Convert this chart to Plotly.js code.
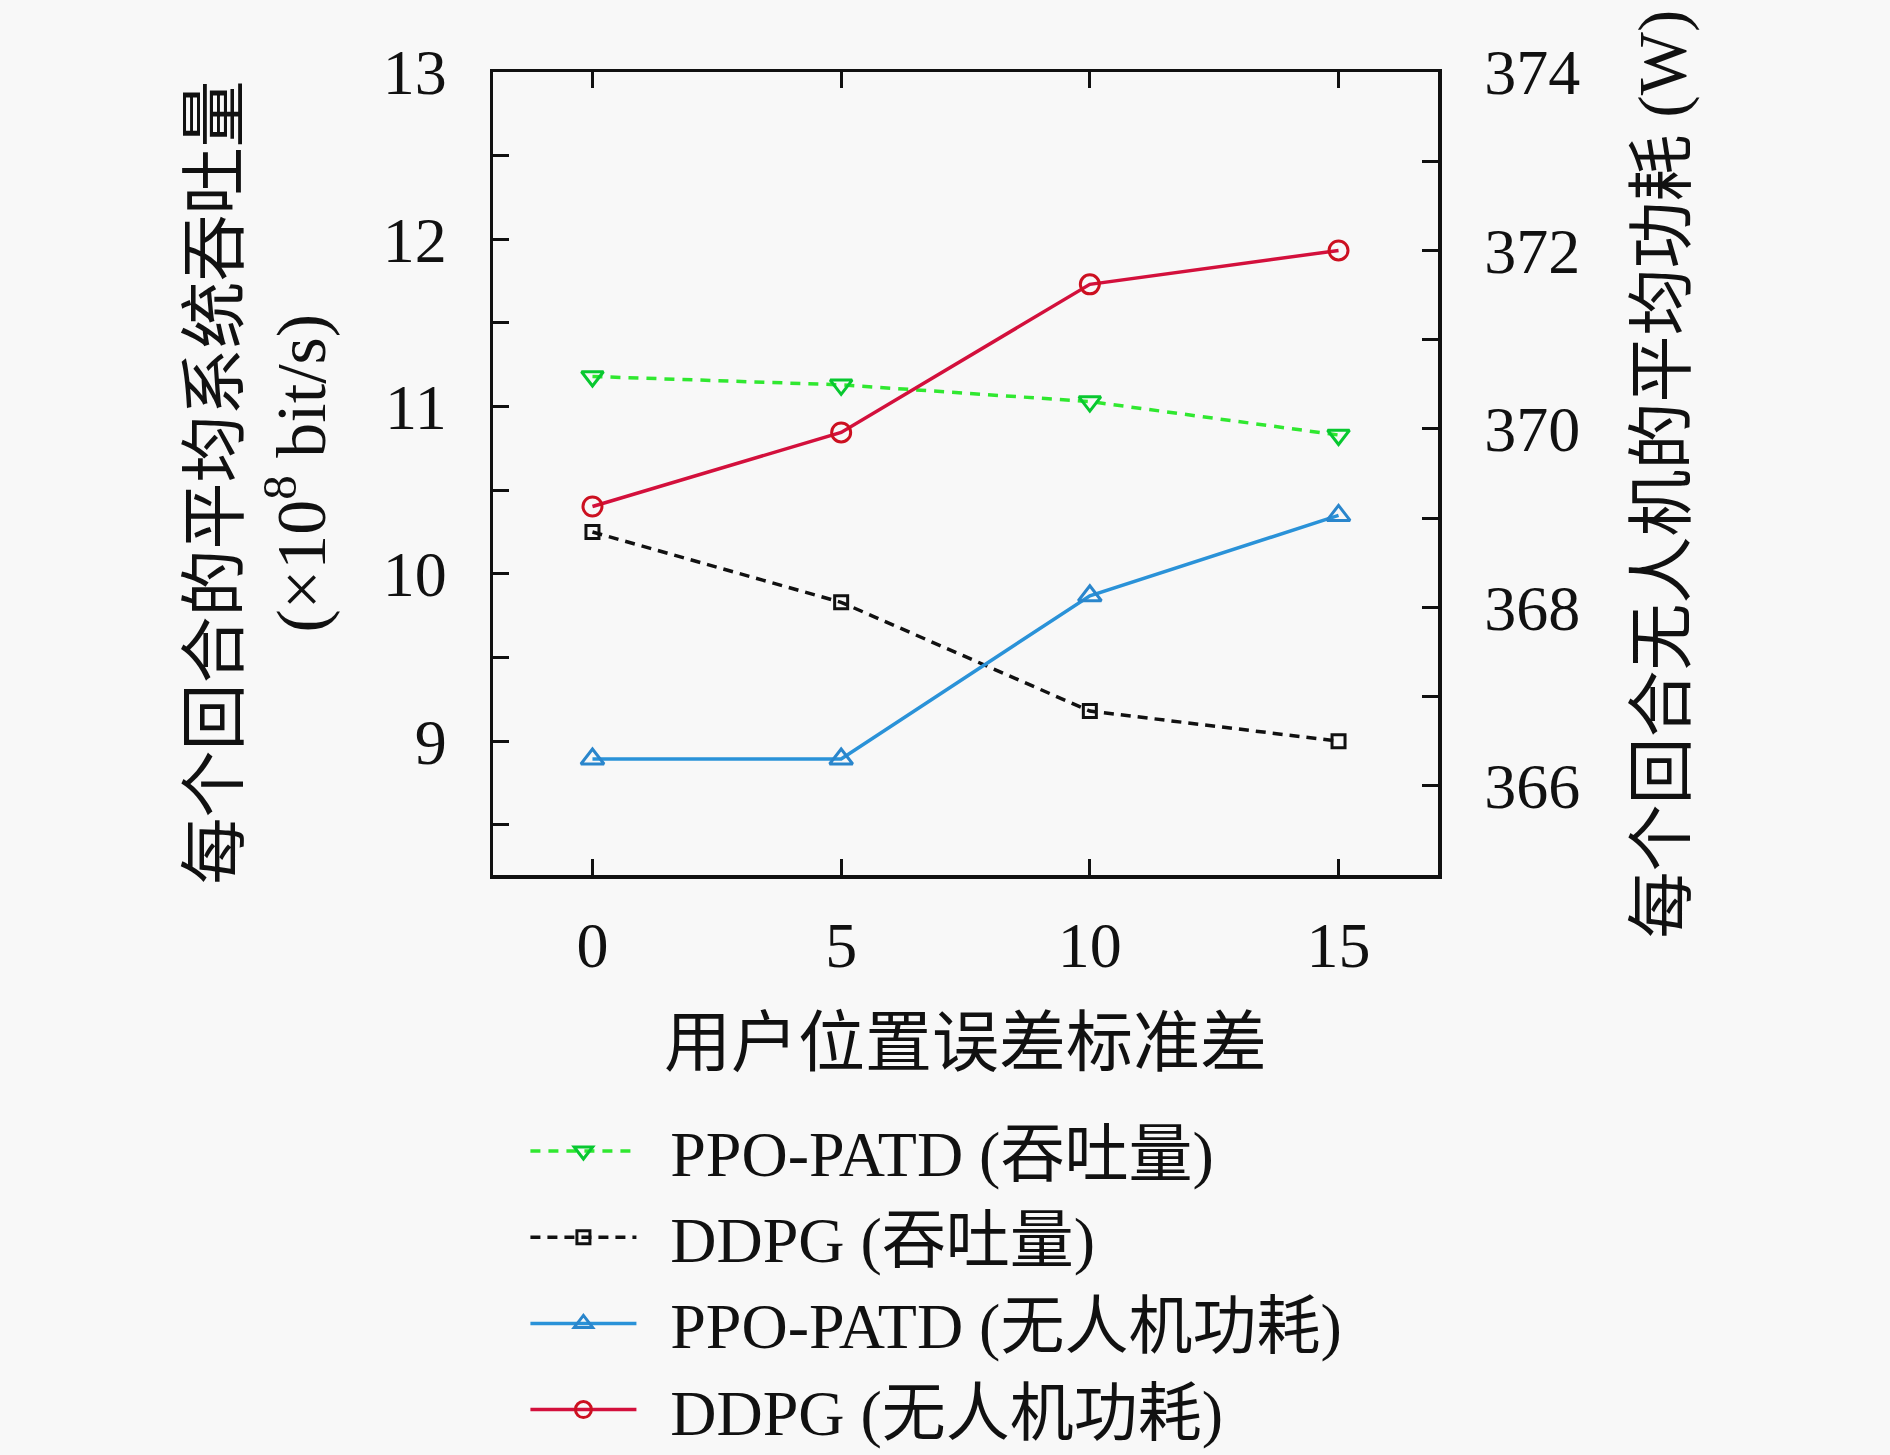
<!DOCTYPE html>
<html>
<head>
<meta charset="utf-8">
<script src="https://cdn.plot.ly/plotly-3.0.1.min.js"></script>
<style>
  html, body { margin: 0; padding: 0; background: #f8f8f8; }
  #chart { width: 1890px; height: 1455px; }
</style>
</head>
<body>
<div id="chart"></div>
<script>
// position error std (x axis)
const errStd = [0, 5, 10, 15];

// throughput, x10^8 bit/s (left axis)
const ppoThroughput = [11.18, 11.13, 11.03, 10.83];
const ddpgThroughput = [10.25, 9.83, 9.18, 9.0];

// UAV power, W (right axis)
const ppoPower = [366.30, 366.30, 368.13, 369.03];
const ddpgPower = [369.13, 369.96, 371.62, 372.0];

const seriesNames = [
  'PPO-PATD (吞吐量)',
  'DDPG (吞吐量)',
  'PPO-PATD (无人机功耗)',
  'DDPG (无人机功耗)',
];

const xTitle = '用户位置误差标准差';
const yTitleLines = ['每个回合的平均系统吞吐量', '(×10<sup>8</sup> bit/s)'];
const y2Title = '每个回合无人机的平均功耗 (W)';

const FONT = 'Liberation Serif, Noto Sans CJK SC, serif';
const pad = '\u00a0\u2009';

const ppoThroughputTrace = {
  type: 'scatter',
  mode: 'lines+markers',
  name: pad + seriesNames[0],
  x: errStd,
  y: ppoThroughput,
  yaxis: 'y',
  line: { color: '#30e830', width: 3.5, dash: '10px,8px' },
  marker: { symbol: 'triangle-down-open', size: 19, color: '#08c830', line: { width: 3 } },
};
const ddpgThroughputTrace = {
  type: 'scatter',
  mode: 'lines+markers',
  name: pad + seriesNames[1],
  x: errStd,
  y: ddpgThroughput,
  yaxis: 'y',
  line: { color: '#111111', width: 3.5, dash: '10px,7px' },
  marker: { symbol: 'square-open', size: 13, color: '#111111', line: { width: 3 } },
};
const ppoPowerTrace = {
  type: 'scatter',
  mode: 'lines+markers',
  name: pad + seriesNames[2],
  x: errStd,
  y: ppoPower,
  yaxis: 'y2',
  line: { color: '#2a92d8', width: 3.5 },
  marker: { symbol: 'triangle-up-open', size: 20, color: '#2a86cc', line: { width: 3 } },
};
const ddpgPowerTrace = {
  type: 'scatter',
  mode: 'lines+markers',
  name: pad + seriesNames[3],
  x: errStd,
  y: ddpgPower,
  yaxis: 'y2',
  line: { color: '#d3103c', width: 3.5 },
  marker: { symbol: 'circle-open', size: 19, color: '#cc1020', line: { width: 3 } },
};

const data = [ppoThroughputTrace, ddpgThroughputTrace, ppoPowerTrace, ddpgPowerTrace];

const axisCommon = {
  automargin: false,
  ticks: 'inside',
  ticklen: 16,
  tickwidth: 3,
  tickcolor: '#111',
  showline: true,
  linewidth: 3.5,
  linecolor: '#111',
  showgrid: false,
  zeroline: false,
  tickfont: { family: FONT, size: 64 },
};

const layout = {
  width: 1890,
  height: 1455,
  paper_bgcolor: '#f8f8f8',
  plot_bgcolor: '#f8f8f8',
  font: { family: FONT, size: 64, color: '#111111' },
  margin: { l: 493, r: 452, t: 72, b: 580, autoexpand: false },
  showlegend: true,
  legend: {
    xref: 'container',
    yref: 'container',
    x: 0.278,
    y: 0.242,
    xanchor: 'left',
    yanchor: 'top',
    bgcolor: 'rgba(0,0,0,0)',
    font: { family: FONT, size: 64 },
    itemwidth: 106,
    tracegroupgap: 0,
  },
  xaxis: Object.assign({}, axisCommon, {
    range: [-2, 17],
    tickvals: errStd,
    mirror: 'ticks',
    ticklabelstandoff: 12,
  }),
  yaxis: Object.assign({}, axisCommon, {
    range: [8.2, 13],
    tick0: 9,
    dtick: 1,
    minor: { dtick: 0.5, ticks: 'inside', ticklen: 16, tickwidth: 3, tickcolor: '#111', showgrid: false },
    ticklabelstandoff: 30,
  }),
  yaxis2: Object.assign({}, axisCommon, {
    overlaying: 'y',
    side: 'right',
    range: [365, 374],
    tick0: 366,
    dtick: 2,
    minor: { dtick: 1, ticks: 'inside', ticklen: 16, tickwidth: 3, tickcolor: '#111', showgrid: false },
    ticklabelstandoff: 30,
  }),
  annotations: [
    {
      text: xTitle, xref: 'paper', yref: 'paper', x: 0.5, y: -0.209,
      xanchor: 'center', yanchor: 'middle', showarrow: false,
      font: { family: FONT, size: 67 },
    },
    {
      text: yTitleLines[0], xref: 'paper', yref: 'paper', x: -0.294, y: 0.489,
      xanchor: 'center', yanchor: 'middle', showarrow: false, textangle: -90,
      font: { family: FONT, size: 67 },
    },
    {
      text: yTitleLines[1], xref: 'paper', yref: 'paper', x: -0.2095, y: 0.5,
      xanchor: 'center', yanchor: 'middle', showarrow: false, textangle: -90,
      font: { family: FONT, size: 70 },
    },
    {
      text: y2Title, xref: 'paper', yref: 'paper', x: 1.238, y: 0.5,
      xanchor: 'center', yanchor: 'middle', showarrow: false, textangle: -90,
      font: { family: FONT, size: 67 },
    },
  ],
};

Plotly.newPlot('chart', data, layout, { displayModeBar: false, staticPlot: true });
</script>
</body>
</html>
